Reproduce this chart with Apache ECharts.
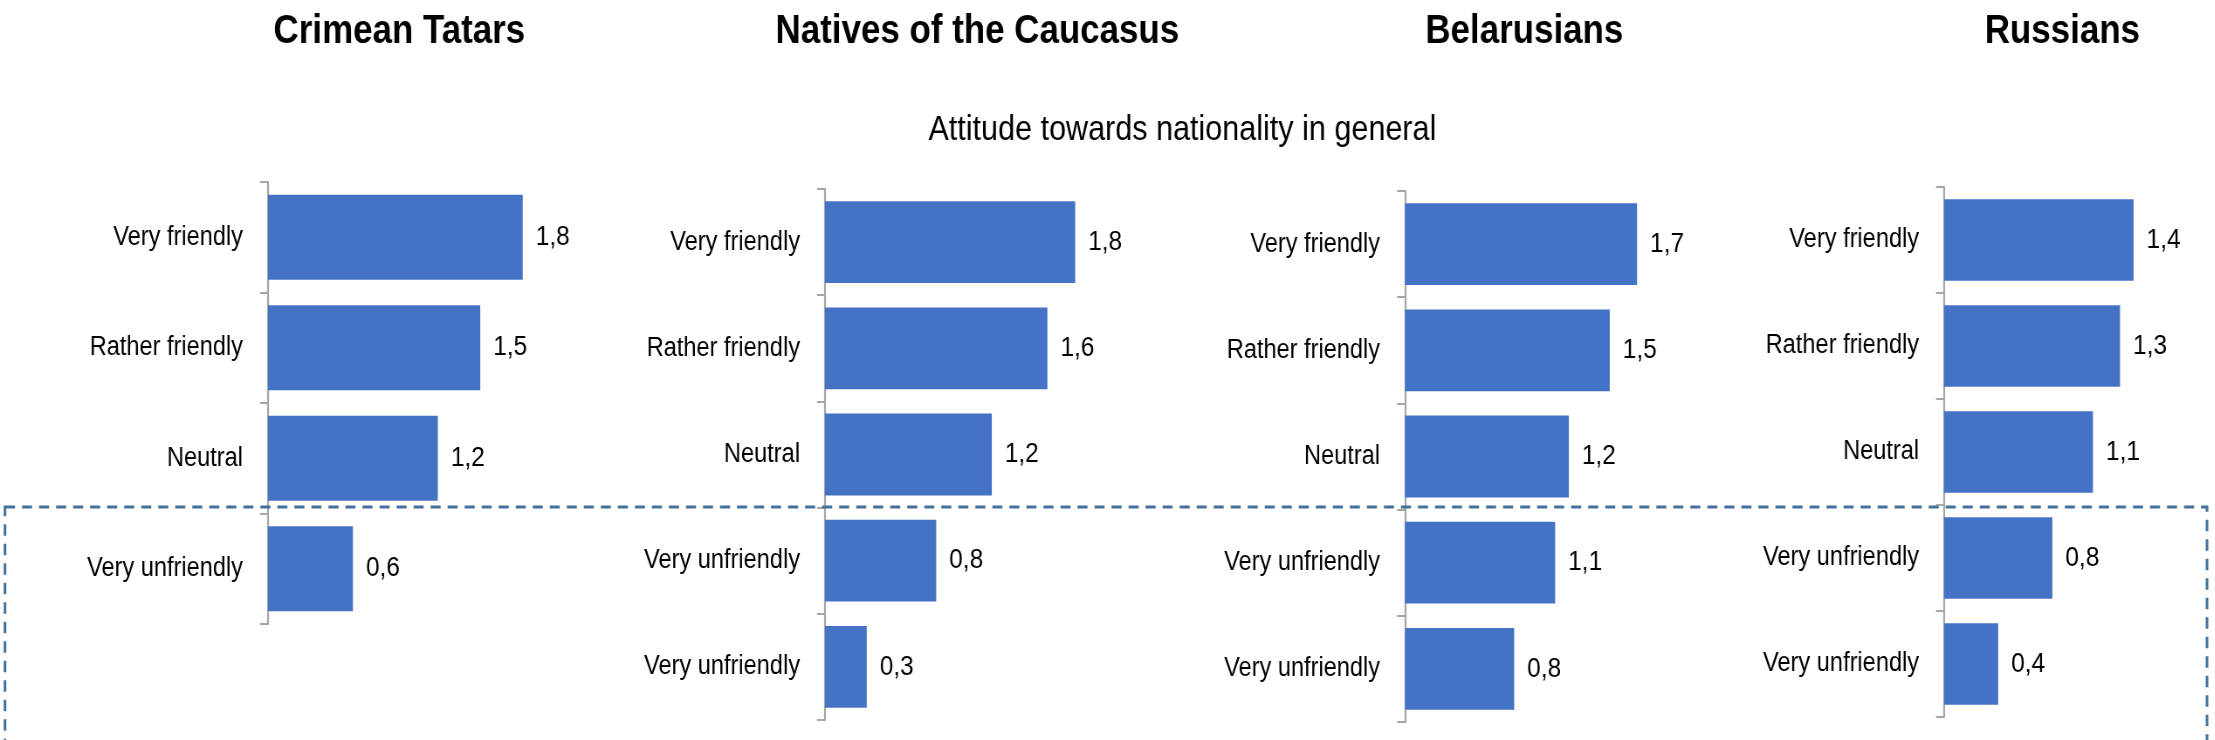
<!DOCTYPE html>
<html>
<head>
<meta charset="utf-8">
<script src="https://cdn.jsdelivr.net/npm/echarts@6/dist/echarts.min.js"></script>
<style>
html,body{margin:0;padding:0;background:#fff;overflow:hidden;width:2215px;height:740px;}
#wrap{width:2215px;height:740px;overflow:hidden;}
#chart{height:740px;transform-origin:0 0;}
</style>
</head>
<body>
<div id="wrap"><div id="chart"></div></div>
<script>
// ---- data ----
const panelTitles = ['Crimean Tatars', 'Natives of the Caucasus', 'Belarusians', 'Russians'];
const subtitle = 'Attitude towards nationality in general';
const categoriesCT = ['Very friendly', 'Rather friendly', 'Neutral', 'Very unfriendly'];
const categoriesNC = ['Very friendly', 'Rather friendly', 'Neutral', 'Very unfriendly', 'Very unfriendly'];
const categoriesBY = ['Very friendly', 'Rather friendly', 'Neutral', 'Very unfriendly', 'Very unfriendly'];
const categoriesRU = ['Very friendly', 'Rather friendly', 'Neutral', 'Very unfriendly', 'Very unfriendly'];
const valuesCT = [1.8, 1.5, 1.2, 0.6];
const valuesNC = [1.8, 1.6, 1.2, 0.8, 0.3];
const valuesBY = [1.7, 1.5, 1.2, 1.1, 0.8];
const valuesRU = [1.4, 1.3, 1.1, 0.8, 0.4];

// ---- layout / style ----
// The reference uses a narrow typeface; emulate it by drawing the chart wider
// and condensing it horizontally.
const S = 0.873;
const X = px => px / S;
const FONT = '"Liberation Sans", Arial, sans-serif';
const BAR = '#4472C4';
const AXIS = '#A6A6A6';
const panels = [
  {cats: categoriesCT, vals: valuesCT, grid: {left: X(268), top: 182, width: X(283), height: 442}, titleX: X(395)},
  {cats: categoriesNC, vals: valuesNC, grid: {left: X(825), top: 189, width: X(278), height: 531}, titleX: X(973)},
  {cats: categoriesBY, vals: valuesBY, grid: {left: X(1405), top: 191, width: X(273), height: 531}, titleX: X(1520)},
  {cats: categoriesRU, vals: valuesRU, grid: {left: X(1944), top: 187, width: X(283), height: 530}, titleX: X(2058)}
];

const el = document.getElementById('chart');
el.style.width = X(2215) + 'px';
el.style.transform = 'scaleX(' + S + ')';
const chart = echarts.init(el, null, {renderer: 'canvas'});

const option = {
  backgroundColor: '#fff',
  animation: false,
  title: panels.map((p, i) => ({
    text: panelTitles[i],
    left: p.titleX, top: 7, textAlign: 'center',
    textStyle: {fontFamily: FONT, fontSize: 40, fontWeight: 'bold', color: '#000'}
  })).concat([{
    text: subtitle, left: X(1178), top: 108, textAlign: 'center',
    textStyle: {fontFamily: FONT, fontSize: 35, fontWeight: 'normal', color: '#000'}
  }]),
  grid: panels.map(p => Object.assign({containLabel: false}, p.grid)),
  xAxis: panels.map((p, i) => ({
    type: 'value', gridIndex: i, min: 0, max: 2, show: false
  })),
  yAxis: panels.map((p, i) => ({
    type: 'category', gridIndex: i, inverse: true, data: p.cats,
    axisLine: {show: true, lineStyle: {color: AXIS, width: 2.2}},
    axisTick: {show: true, length: X(8), lineStyle: {color: AXIS, width: 2}},
    axisLabel: {margin: X(25), fontFamily: FONT, fontSize: 27, color: '#000'},
    splitLine: {show: false}
  })),
  series: panels.map((p, i) => ({
    type: 'bar', xAxisIndex: i, yAxisIndex: i, data: p.vals,
    barCategoryGap: '23%',
    itemStyle: {color: BAR},
    label: {
      show: true, position: 'right', distance: X(13),
      fontFamily: FONT, fontSize: 28, color: '#000',
      formatter: d => d.value.toFixed(1).replace('.', ',')
    }
  })),
  graphic: [{
    type: 'rect', z: 100,
    shape: {x: X(5), y: 507, width: X(2202), height: 300},
    style: {fill: 'none', stroke: '#41719C', lineWidth: 3, lineDash: [11.5, 8]}
  }]
};
chart.setOption(option);
</script>
</body>
</html>
